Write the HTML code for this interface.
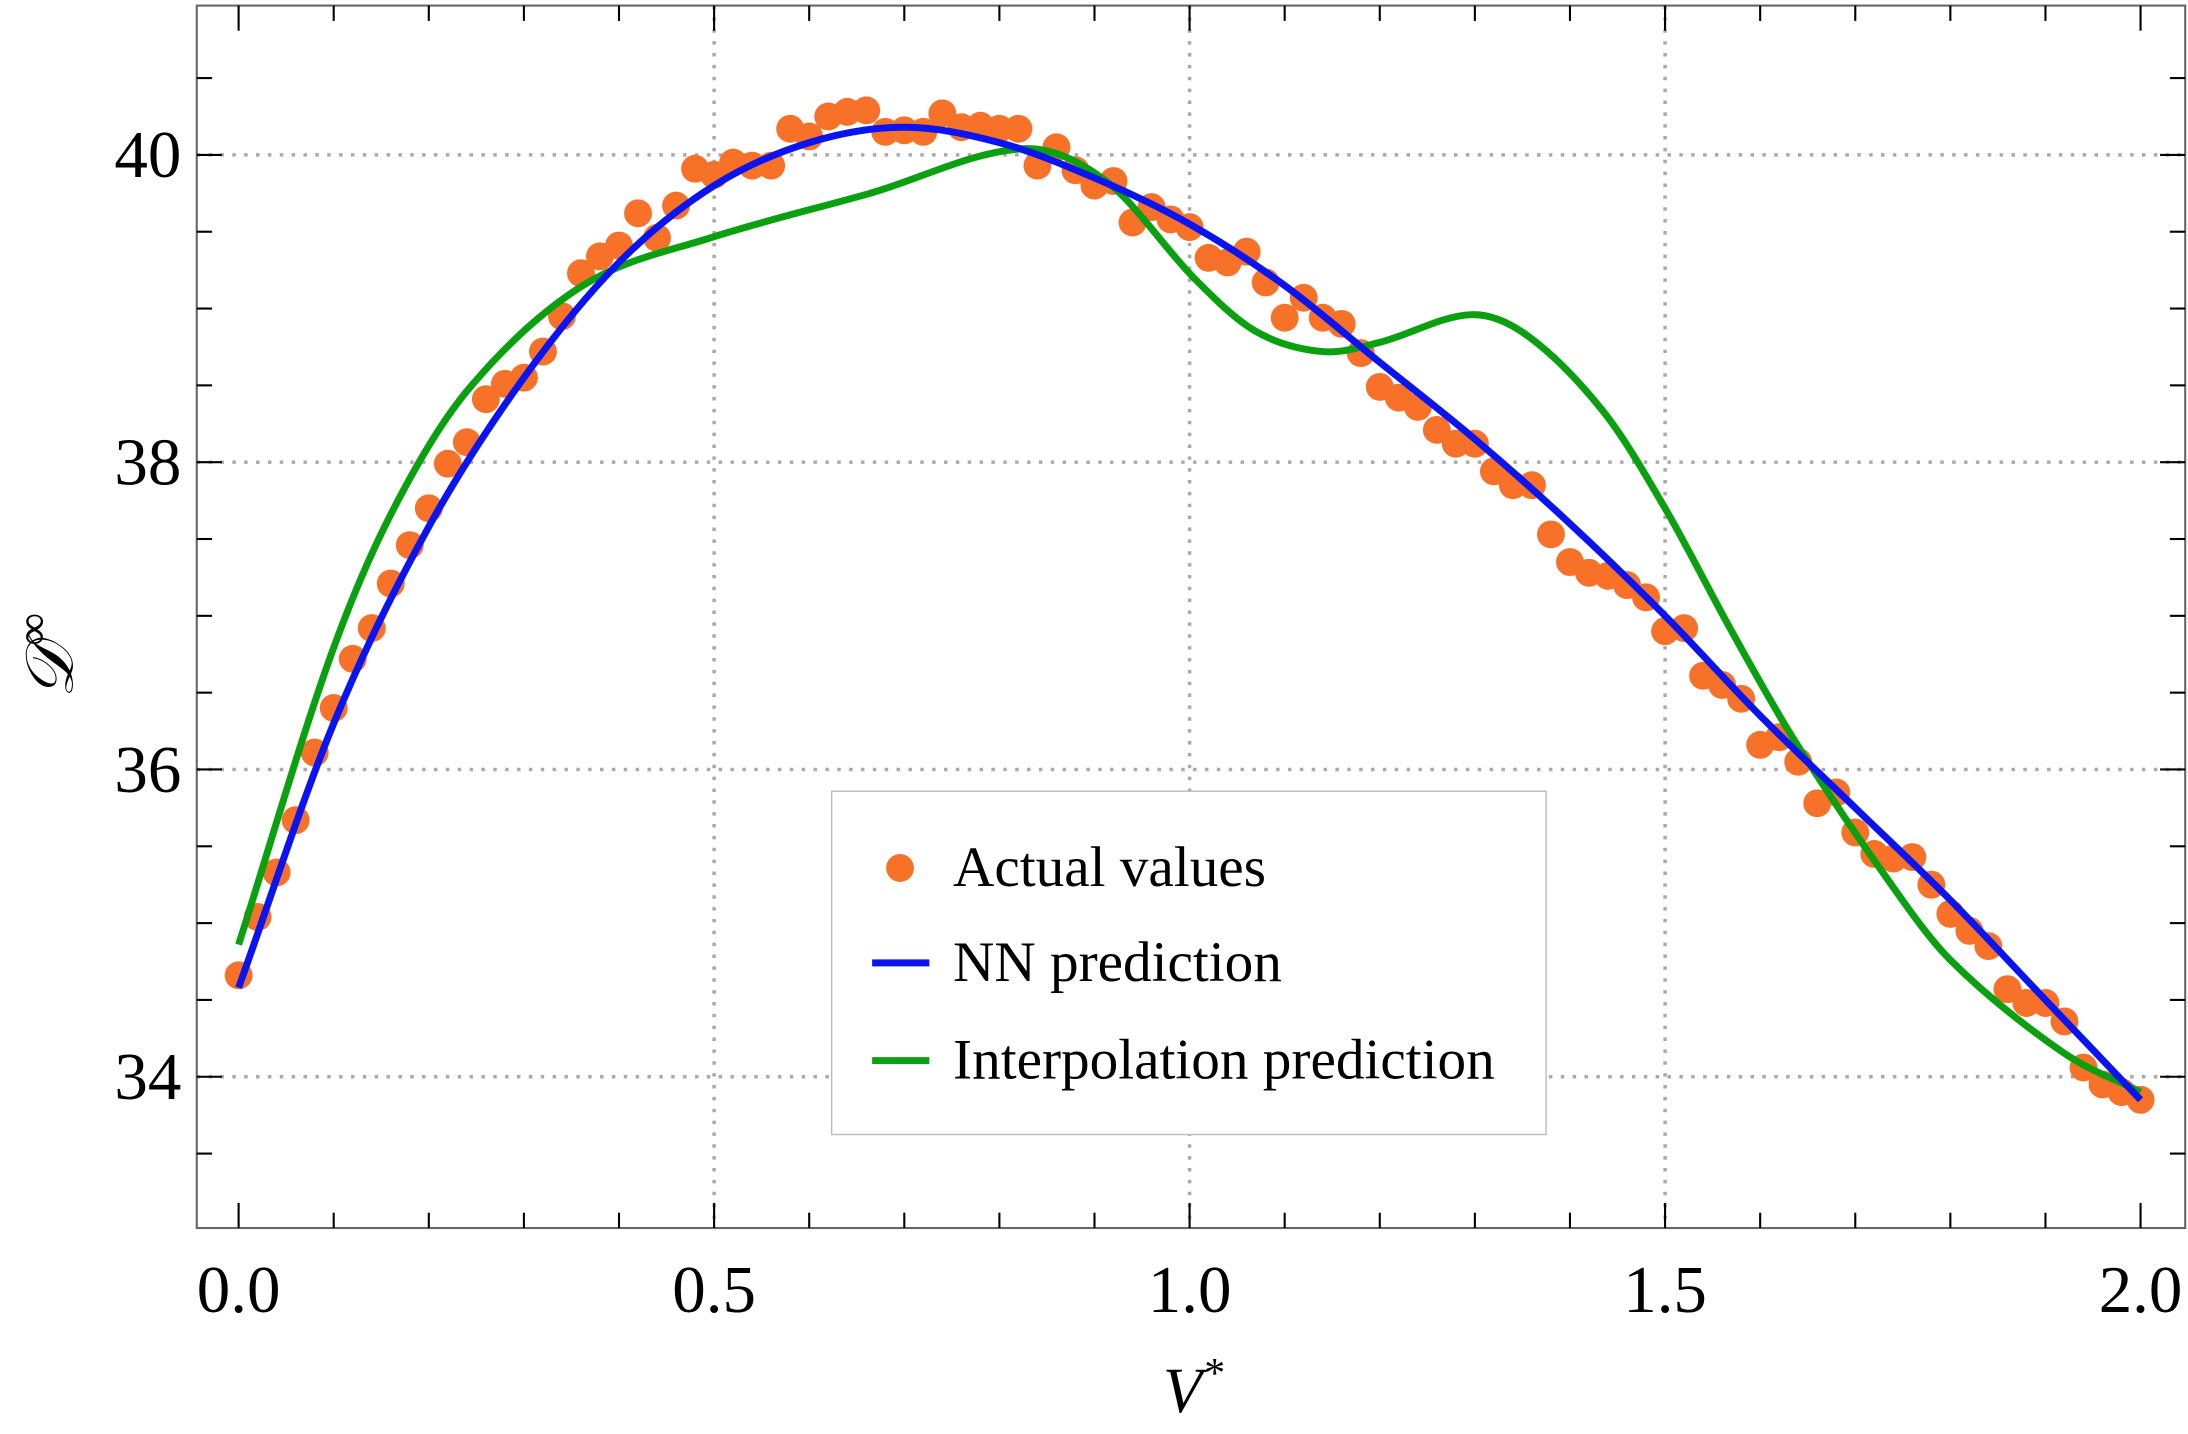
<!DOCTYPE html>
<html><head><meta charset="utf-8"><style>
html,body{margin:0;padding:0;background:#fff;}
svg{display:block;font-family:"Liberation Serif",serif;}
</style></head><body>
<svg id="chart" width="2188" height="1434" viewBox="0 0 1568 1027.6" preserveAspectRatio="none" xmlns="http://www.w3.org/2000/svg">
<g id="grid"></g>
<g id="series"></g>
<rect x="141" y="4" width="1425" height="876" fill="none" stroke="#666" stroke-width="1.5"/>
<g id="ticks"></g>
<text x="855" y="1012" font-size="46" font-style="italic" text-anchor="middle">V<tspan font-size="30" dy="-18">*</tspan></text>
<text transform="translate(52,470) rotate(-90)" font-size="48" font-style="italic" text-anchor="middle">𝒟<tspan font-size="32" dy="-18">∞</tspan></text>
<g>
<rect x="596" y="567" width="512" height="246" fill="#fff" stroke="#bbb" stroke-width="1"/>
<circle cx="645" cy="622" r="10" fill="#f77228"/>
<text x="683" y="635" font-size="41">Actual values</text>
<line x1="625" y1="690" x2="666" y2="690" stroke="#0a14f0" stroke-width="5"/>
<text x="683" y="703" font-size="41">NN prediction</text>
<line x1="625" y1="760" x2="666" y2="760" stroke="#0aa010" stroke-width="5"/>
<text x="683" y="773" font-size="41">Interpolation prediction</text>
</g>
</svg>
<script>
const actualValues=[34.66,35.04,35.33,35.67,36.11,36.40,36.72,36.92,37.21,37.46,37.70,37.99,38.13,38.41,38.51,38.55,38.72,38.95,39.23,39.34,39.41,39.62,39.46,39.67,39.91,39.87,39.95,39.93,39.93,40.17,40.12,40.25,40.28,40.29,40.15,40.16,40.15,40.27,40.18,40.19,40.17,40.17,39.93,40.05,39.90,39.80,39.83,39.56,39.66,39.58,39.53,39.33,39.30,39.37,39.17,38.94,39.07,38.94,38.90,38.71,38.49,38.42,38.36,38.21,38.12,38.12,37.94,37.85,37.85,37.53,37.35,37.28,37.26,37.20,37.12,36.90,36.92,36.61,36.55,36.46,36.16,36.21,36.05,35.78,35.85,35.59,35.45,35.42,35.43,35.25,35.06,34.95,34.85,34.57,34.48,34.48,34.36,34.06,33.95,33.90,33.85];
const nnX=[0,0.1,0.2,0.3,0.4,0.5,0.6,0.7,0.8,0.9,1.0,1.1,1.2,1.3,1.4,1.5,1.6,1.7,1.8,1.9,2.0];
const nnY=[34.58,36.3,37.58,38.55,39.3,39.8,40.08,40.18,40.08,39.85,39.55,39.15,38.65,38.15,37.6,37.0,36.35,35.75,35.15,34.5,33.85];
const interpX=[0,0.094,0.16,0.241,0.362,0.496,0.664,0.825,0.912,1.006,1.07,1.14,1.2,1.296,1.356,1.435,1.5,1.57,1.635,1.73,1.80,1.918,2.0];
const interpY=[34.86,36.69,37.66,38.47,39.15,39.46,39.75,40.04,39.83,39.19,38.85,38.72,38.78,38.96,38.82,38.33,37.70,36.90,36.20,35.32,34.76,34.16,33.9];
const xTicks=["0.0","0.5","1.0","1.5","2.0"];
const yTicks=["34","36","38","40"];
const NS="http://www.w3.org/2000/svg";
function sx(v){return 171+v*681.5;}
function sy(v){return 111+(40-v)*110.1;}
function mk(tag,attrs,parent){const e=document.createElementNS(NS,tag);for(const k in attrs)e.setAttribute(k,attrs[k]);parent.appendChild(e);return e;}
const grid=document.getElementById('grid'),ticks=document.getElementById('ticks'),series=document.getElementById('series');
xTicks.forEach(t=>{const v=parseFloat(t),x=sx(v);
 if(v>0&&v<2){const g=mk('line',{x1:x,x2:x,y1:4,y2:880,stroke:'#aaa','stroke-width':2.5,'stroke-dasharray':'2.5 6'},grid);
 
 }
 const l=mk('text',{x:x,y:940,'font-size':48,'text-anchor':'middle'},ticks);l.textContent=t;
 
 });
yTicks.forEach(t=>{const v=parseFloat(t),y=sy(v);
 const g=mk('line',{x1:141,x2:1566,y1:y,y2:y,stroke:'#aaa','stroke-width':2.5,'stroke-dasharray':'2.5 6'},grid);
 
 
 const l=mk('text',{x:130,y:y+16,'font-size':48,'text-anchor':'end'},ticks);l.textContent=t;
 
 });
for(let i=0;i<=20;i++){const v=i/10,x=sx(v),len=(i%5==0)?18:11;
 mk('line',{x1:x,x2:x,y1:880,y2:880-len,stroke:'#000','stroke-width':1.5},ticks);
 mk('line',{x1:x,x2:x,y1:4,y2:4+len,stroke:'#000','stroke-width':1.5},ticks);}
for(let v=33;v<=41;v+=0.5){const y=sy(v);if(y<4||y>880)continue;const len=(v%2==0)?18:11;
 mk('line',{x1:141,x2:141+len,y1:y,y2:y,stroke:'#000','stroke-width':1.5},ticks);
 mk('line',{x1:1566,x2:1566-len,y1:y,y2:y,stroke:'#000','stroke-width':1.5},ticks);}
actualValues.forEach((v,i)=>{const c=mk('circle',{cx:sx(i*0.02),cy:sy(v),r:10,fill:'#f77228'},series);
 
 });
function curve(xs,ys){const n=xs.length,m=[];
 for(let i=0;i<n;i++){const a=Math.max(0,i-1),b=Math.min(n-1,i+1);m.push((ys[b]-ys[a])/(xs[b]-xs[a]));}
 let d='M'+sx(xs[0])+','+sy(ys[0]);
 for(let i=0;i<n-1;i++){const h=xs[i+1]-xs[i];
 d+=' C'+sx(xs[i]+h/3)+','+sy(ys[i]+m[i]*h/3)+' '+sx(xs[i+1]-h/3)+','+sy(ys[i+1]-m[i+1]*h/3)+' '+sx(xs[i+1])+','+sy(ys[i+1]);}
 return d;}
const gl=mk('path',{d:curve(interpX,interpY),fill:'none',stroke:'#0aa010','stroke-width':5},series);


const bl=mk('path',{d:curve(nnX,nnY),fill:'none',stroke:'#0a14f0','stroke-width':5},series);


</script>
</body></html>
